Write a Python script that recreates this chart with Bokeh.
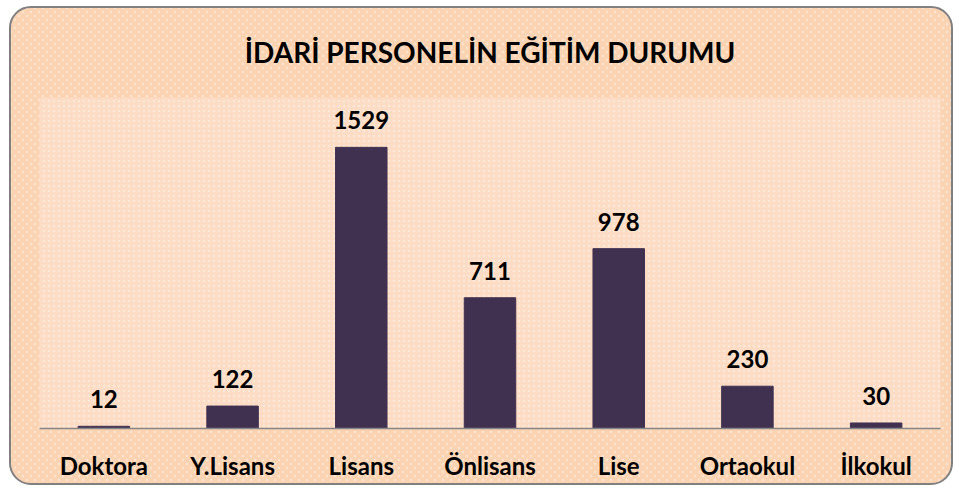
from bokeh.plotting import figure
from bokeh.models import ColumnDataSource, LabelSet, BoxAnnotation, Range1d
from bokeh.core.properties import value
from bokeh.embed import file_html
from bokeh.resources import INLINE

categories = ["Doktora", "Y.Lisans", "Lisans", "Önlisans", "Lise", "Ortaokul", "İlkokul"]
values = [12, 122, 1529, 711, 978, 230, 30]
title_text = "İDARİ PERSONELİN EĞİTİM DURUMU"

src = ColumnDataSource(dict(cat=categories, val=values, lab=[str(v) for v in values]))

p = figure(x_range=categories, y_range=Range1d(0, 1800), width=944, height=479,
           output_backend="svg", toolbar_location=None, title=title_text,
           min_border_left=28, min_border_right=15, min_border_top=89, min_border_bottom=59)

p.styles = {
    "margin-left": "9px",
    "margin-top": "6px",
    "border": "2px solid #808080",
    "border-radius": "22px",
    "overflow": "hidden",
    "background-color": "#FAD3B3",
    "background-image": "radial-gradient(circle, rgba(255,234,216,0.7) 1px, transparent 1.7px), radial-gradient(circle, rgba(255,234,216,0.7) 1px, transparent 1.7px)",
    "background-size": "8px 8px, 8px 8px",
    "background-position": "0 0, 4px 4px",
}
p.border_fill_alpha = 0
p.background_fill_color = "#FCDCC5"
p.outline_line_color = None

p.add_layout(BoxAnnotation(fill_alpha=0, line_color=None, hatch_pattern="dot",
                           hatch_color="white", hatch_alpha=0.3, hatch_scale=5,
                           level="underlay"))

p.vbar(x="cat", top="val", width=0.4, source=src, fill_color="#403151", line_color="#403151")

p.add_layout(LabelSet(x="cat", y="val", text="lab", source=src, text_align="center",
                      text_baseline="alphabetic", y_offset=18, text_font=value("Lato"),
                      text_font_style="bold", text_font_size="24px", text_color="#000000"))

p.title.align = "center"
p.title.vertical_align = "top"
p.title.text_font = "Lato"
p.title.text_font_style = "bold"
p.title.text_font_size = "28px"
p.title.text_color = "#000000"
p.title.standoff = 53

p.xgrid.grid_line_color = None
p.ygrid.grid_line_color = None
p.yaxis.visible = False
p.xaxis.axis_line_color = "#868686"
p.xaxis.axis_line_width = 1.5
p.xaxis.major_tick_line_color = None
p.xaxis.minor_tick_line_color = None
p.xaxis.major_label_standoff = 16
p.xaxis.major_label_text_font = "Lato"
p.xaxis.major_label_text_font_style = "bold"
p.xaxis.major_label_text_font_size = "24px"
p.xaxis.major_label_text_color = "#000000"
p.x_range.range_padding = 0

open("out.html", "w").write(file_html(p, INLINE))
